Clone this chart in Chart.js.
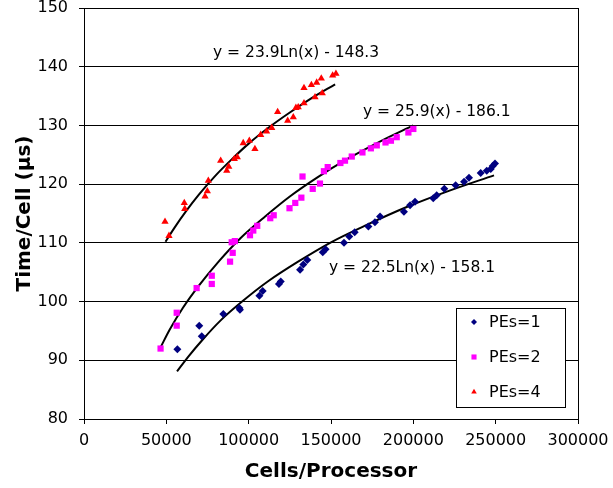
<!DOCTYPE html>
<html>
<head>
<meta charset="utf-8">
<script src="https://cdn.jsdelivr.net/npm/chart.js@4.4.0/dist/chart.umd.min.js"></script>
<style>
  html, body { margin: 0; padding: 0; background: #fff; }
  #wrap { width: 613px; height: 488px; }
</style>
</head>
<body>
<div id="wrap"><canvas id="chart" width="613" height="488"></canvas></div>
<script>
// measured points, PEs=1
const pes1X = [56700, 70000, 71500, 84600, 94400, 94700, 106500, 108500, 118400, 119500, 131200, 133200, 135600, 145000, 146700, 157900, 161100, 164400, 172700, 176700, 179800, 194300, 198000, 201000, 212100, 214200, 218800, 225700, 230800, 233800, 240900, 244600, 247000, 248200, 249600];
const pes1Y = [91.9, 95.9, 94.1, 97.9, 98.9, 98.6, 101.0, 101.8, 103.0, 103.4, 105.4, 106.3, 107.1, 108.4, 108.9, 110.0, 111.1, 111.8, 112.8, 113.5, 114.5, 115.3, 116.4, 117.0, 117.6, 118.1, 119.2, 119.8, 120.4, 121.1, 121.9, 122.3, 122.6, 123.1, 123.5];

// PEs=2
const pes2X = [46500, 56300, 56300, 68400, 77600, 77600, 88700, 89700, 90300, 91600, 100800, 102800, 105200, 113100, 115200, 124800, 128300, 132000, 132700, 138900, 143300, 145700, 148000, 155700, 158500, 162600, 169100, 174200, 177800, 183100, 186400, 189900, 197000, 200000];
const pes2Y = [92.0, 98.1, 95.9, 102.3, 104.4, 103.0, 106.8, 110.1, 108.3, 110.3, 111.3, 112.1, 112.9, 114.2, 114.7, 115.9, 116.8, 117.7, 121.3, 119.2, 120.1, 122.2, 122.9, 123.6, 124.0, 124.7, 125.4, 126.1, 126.6, 127.1, 127.4, 128.0, 128.8, 129.4];

// PEs=4
const pes4X = [49200, 51600, 60900, 61200, 73500, 74900, 75500, 83000, 86700, 87900, 91300, 93100, 96700, 100400, 103800, 107300, 110900, 114000, 117600, 123700, 127100, 128700, 130100, 133600, 133600, 138100, 140300, 141300, 144100, 144700, 151000, 153000];
const pes4Y = [113.6, 111.2, 116.8, 115.8, 117.9, 118.8, 120.6, 124.0, 122.3, 123.0, 124.3, 124.6, 127.0, 127.4, 126.0, 128.4, 129.0, 129.6, 132.3, 130.8, 131.4, 133.0, 133.1, 133.8, 136.4, 136.9, 134.8, 137.3, 138.0, 135.5, 138.5, 138.8];

// trend lines
const trend1X = [56500, 63000, 72000, 83000, 96000, 112000, 130000, 150000, 172000, 196000, 222000, 249000];
const trend1Y = [88.1, 90.5, 93.5, 96.8, 100.0, 103.5, 106.8, 110.1, 113.1, 116.1, 118.9, 121.5];
const trend2X = [46500, 52000, 60000, 70000, 82000, 95000, 110000, 125000, 142000, 160000, 180000, 200000];
const trend2Y = [92.2, 95.2, 98.9, 102.8, 106.9, 110.8, 114.5, 117.9, 121.2, 124.3, 127.3, 130.0];
const trend4X = [49500, 55000, 62000, 70000, 80000, 90000, 100000, 112000, 125000, 138000, 152500];
const trend4Y = [110.2, 112.6, 115.4, 118.3, 121.5, 124.3, 126.9, 129.6, 132.2, 134.6, 137.0];

const seriesNames = ["PEs=1", "PEs=2", "PEs=4"];
const trendLabels = ["y = 22.5Ln(x) - 158.1", "y = 25.9(x) - 186.1", "y = 23.9Ln(x) - 148.3"];

const FONT = 'Verdana, "DejaVu Sans", sans-serif';

function pts(xs, ys) {
  return xs.map((x, i) => ({ x: x, y: ys[i] }));
}

function markerSet(label, xs, ys, color, style, r) {
  return {
    label: label,
    data: pts(xs, ys),
    pointStyle: style,
    pointRadius: r,
    pointHoverRadius: r,
    backgroundColor: color,
    borderColor: color,
    borderWidth: 0,
    showLine: false
  };
}

function trendSet(xs, ys) {
  return {
    label: "trend",
    data: pts(xs, ys),
    showLine: true,
    borderColor: "#000",
    borderWidth: 2,
    pointRadius: 0,
    pointHoverRadius: 0,
    cubicInterpolationMode: "monotone",
    fill: false
  };
}

// equation labels, legend box and right border of the plot area
const extras = {
  id: "extras",
  afterDatasetsDraw(chart) {
    const ctx = chart.ctx;
    const a = chart.chartArea;
    ctx.save();
    ctx.strokeStyle = "#000";
    ctx.lineWidth = 1;
    ctx.beginPath();
    ctx.moveTo(Math.round(a.right) + 0.5, a.top);
    ctx.lineTo(Math.round(a.right) + 0.5, a.bottom);
    ctx.stroke();

    ctx.fillStyle = "#000";
    ctx.font = "15.5px " + FONT;
    ctx.textBaseline = "middle";
    ctx.textAlign = "left";
    ctx.fillText(trendLabels[2], 213, 53);
    ctx.fillText(trendLabels[1], 363, 112);
    ctx.fillText(trendLabels[0], 329, 268);

    // legend
    ctx.fillStyle = "#fff";
    ctx.fillRect(456, 308, 109, 99);
    ctx.strokeRect(456.5, 308.5, 109, 99);
    const rows = [322, 357, 392];
    const sizes = [3, 3.6, 3.2];
    ctx.font = "16px " + FONT;
    seriesNames.forEach((name, i) => {
      const ds = chart.data.datasets[i];
      ctx.fillStyle = ds.backgroundColor;
      ctx.strokeStyle = ds.backgroundColor;
      Chart.helpers.drawPoint(ctx, {
        pointStyle: ds.pointStyle,
        radius: sizes[i],
        rotation: 0,
        borderWidth: 0
      }, 474, rows[i]);
      ctx.fillStyle = "#000";
      ctx.fillText(name, 489, rows[i] + 1);
    });
    ctx.restore();
  }
};

Chart.defaults.color = "#000";
Chart.defaults.font.family = FONT;

new Chart(document.getElementById("chart"), {
  type: "scatter",
  data: {
    datasets: [
      markerSet(seriesNames[0], pes1X, pes1Y, "#000080", "rectRot", 4),
      markerSet(seriesNames[1], pes2X, pes2Y, "#ff00ff", "rect", 4.4),
      markerSet(seriesNames[2], pes4X, pes4Y, "#ff0000", "triangle", 4.2),
      trendSet(trend1X, trend1Y),
      trendSet(trend2X, trend2Y),
      trendSet(trend4X, trend4Y)
    ]
  },
  options: {
    responsive: false,
    animation: false,
    devicePixelRatio: 1,
    layout: { padding: { left: 0, right: 35, top: 8, bottom: 0 } },
    plugins: {
      legend: { display: false },
      tooltip: { enabled: false }
    },
    scales: {
      x: {
        type: "linear",
        min: 0,
        max: 300000,
        afterFit: s => { s.height = 69; s.paddingLeft = 0; s.paddingRight = 0; },
        ticks: {
          stepSize: 50000,
          padding: 7,
          maxRotation: 0,
          font: { size: 16 },
          callback: v => String(v)
        },
        grid: { drawOnChartArea: false, drawTicks: true, tickLength: 5, color: "#000" },
        border: { color: "#000", width: 1 },
        title: {
          display: true,
          text: "Cells/Processor",
          font: { size: 20, weight: "bold" },
          padding: { top: 0, bottom: 4 }
        }
      },
      y: {
        min: 80,
        max: 150,
        afterFit: s => { s.width = 84; s.paddingTop = 0; s.paddingBottom = 0; },
        ticks: {
          stepSize: 10,
          padding: 11,
          font: { size: 16 }
        },
        grid: { color: "#000", lineWidth: 1, drawTicks: true, tickLength: 5 },
        border: { color: "#000", width: 1 },
        title: {
          display: true,
          text: "Time/Cell (µs)",
          font: { size: 20, weight: "bold" },
          padding: { top: 13, bottom: 0 }
        }
      }
    }
  },
  plugins: [extras]
});
</script>
</body>
</html>
